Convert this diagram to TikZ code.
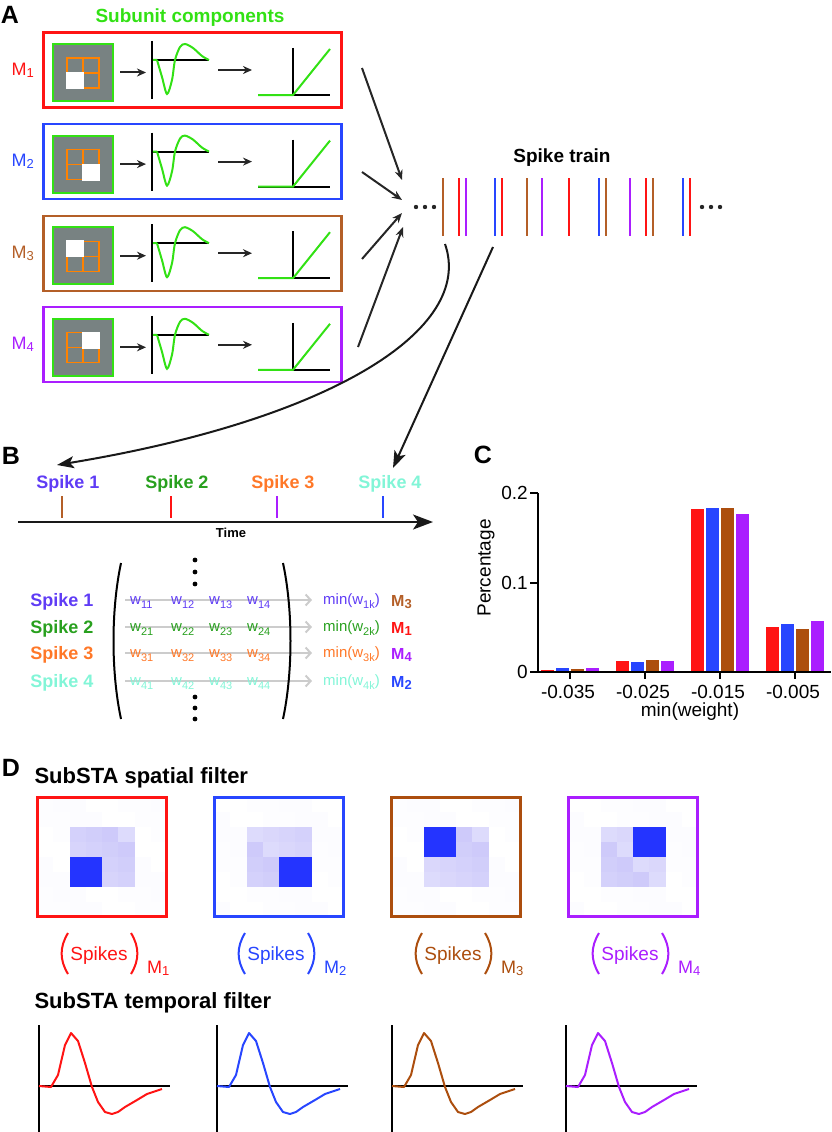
\documentclass[tikz,border=0pt]{standalone}
\usepackage{fontspec}
\setmainfont{Liberation Sans}
\usetikzlibrary{arrows.meta,positioning}
\definecolor{mred}{RGB}{255,20,20}
\definecolor{mblue}{RGB}{40,70,255}
\definecolor{mbrown}{RGB}{180,95,40}
\definecolor{mpurple}{RGB}{170,30,255}
\definecolor{dbrown}{RGB}{172,78,14}
\definecolor{subgreen}{RGB}{50,225,20}
\definecolor{stimgray}{RGB}{120,130,130}
\definecolor{gridorange}{RGB}{255,130,0}
\definecolor{bviolet}{RGB}{95,60,245}
\definecolor{bgreen}{RGB}{40,160,30}
\definecolor{borange}{RGB}{255,120,40}
\definecolor{baqua}{RGB}{130,245,215}
\definecolor{sflav}{RGB}{100,90,240}
\definecolor{sfhot}{RGB}{36,52,255}
\newcommand{\setfs}[1]{\fontsize{#1}{#1}\selectfont}
\newcommand{\wsub}[1]{\raisebox{-4pt}{\setfs{11}#1}}
\newcommand{\msub}[1]{\raisebox{-2pt}{\setfs{13}#1}}
\tikzset{
  panel/.style={font=\setfs{25}\bfseries},
  title/.style={font=\setfs{19}\bfseries},
  bigtitle/.style={font=\setfs{22}\bfseries, anchor=west},
  subbox/.style={rectangle, minimum width=298pt, minimum height=75pt, line width=2.2pt, inner sep=0pt},
  stim/.style={rectangle, fill=stimgray, draw=subgreen, line width=2.2pt, minimum width=60pt, minimum height=57pt, inner sep=0pt},
  gridline/.style={draw=gridorange, line width=1.3pt},
  axisline/.style={draw=black, line width=2pt},
  greencurve/.style={draw=subgreen, line width=2pt},
  smallarrow/.style={-{Stealth[length=9pt,width=8pt]}, line width=2pt, black!85},
  convarrow/.style={-{Stealth[length=10pt,width=8pt]}, line width=2pt, black!85},
  bigarrow/.style={-{Stealth[length=17pt,width=12pt,inset=4pt]}, line width=2pt, black!90},
  spike/.style={line width=2.2pt},
  mlabel/.style={font=\setfs{18}},
  spikelab/.style={font=\setfs{18}\bfseries},
  went/.style={font=\setfs{15}, inner sep=0pt},
  mbold/.style={font=\setfs{16}\bfseries, inner sep=0pt},
  rowarrow/.style={-{Straight Barb[length=5pt,width=11pt]}, line width=2pt, draw=black!20},
  paren/.style={line width=2pt},
  ticklab/.style={font=\setfs{19}},
  sfbox/.style={rectangle, minimum width=129pt, minimum height=119pt, line width=2.2pt, inner sep=0pt},
  tcurve/.style={line width=2pt, line join=round}
}

\begin{document}
\begin{tikzpicture}[x=1pt, y=-1pt]
\useasboundingbox (0,0) rectangle (831,1132);

% panel letters
\node[panel] (labA) at (10,15) {A};
\node[panel] (labB) at (11,456) {B};
\node[panel] (labC) at (483,455) {C};
\node[panel] (labD) at (11,768) {D};

% ---------- A: subunits ----------
\node[title, text=subgreen] (subtitle) at (190,18) {Subunit components};
\foreach \i/\col/\wx/\wy in {1/mred/0/1, 2/mblue/1/1, 3/mbrown/0/0, 4/mpurple/1/0}{
  \pgfmathsetmacro\dy{91.6*(\i-1)}
  \pgfmathsetmacro\wxa{67+16*\wx-1}
  \pgfmathsetmacro\wya{58+15*\wy-1}
  \begin{scope}[yshift=-\dy pt]
    \node[subbox, draw=\col] (box\i) at (192.5,70) {};
    \node[mlabel, text=\col, left=5pt of box\i] (m\i) {M\msub{\i}};
    \node[stim] (stim\i) at (83,72.5) {};
    \draw[gridline] (67,58) rectangle (99,88) (83,58) -- (83,88) (67,73) -- (99,73);
    \fill[white] (\wxa,\wya) rectangle ++(18,17);
    \coordinate (tf\i) at (152,60);
    \draw[smallarrow] ([xshift=6pt]stim\i.east) -- ([xshift=-6pt]tf\i |- stim\i.east);
    \draw[axisline] (152,41) -- (152,99) (tf\i) -- (209,60);
    \draw[greencurve] (153,60) -- (157,60) plot[smooth] coordinates {(157,60) (162,77) (167,94) (172,80) (175,60) (180,47) (185,44) (193,48) (202,56) (209,60)};
    \coordinate (nl\i) at (293,95);
    \draw[smallarrow] (218,70) -- (252,70);
    \draw[axisline] (nl\i |- 0,48) -- (nl\i |- 0,96) (258,95) -- (330,95);
    \draw[greencurve] (258,95) -- (nl\i) -- (330,49);
  \end{scope}
}

% converging onto the spike train
\coordinate (out1) at (362,68);  \coordinate (in1) at (402,180);
\coordinate (out2) at (362,172); \coordinate (in2) at (402,200);
\coordinate (out3) at (362,259); \coordinate (in3) at (402,213);
\coordinate (out4) at (358,347); \coordinate (in4) at (403,227);
\foreach \i in {1,...,4}
  \draw[convarrow] (out\i) -- (in\i);

\node[title] (train) at (562,158) {Spike train};
\foreach \x/\c in {443/mbrown, 459/mred, 466/mpurple, 495/mblue, 502/mred, 527/mbrown, 542/mpurple, 569/mred, 599/mblue, 606/mbrown, 630/mpurple, 646/mred, 653/mbrown, 683/mblue, 690/mred}
  \draw[spike, \c] (\x,178) -- (\x,236);
\foreach \x in {416,425,434,702,711,720}
  \fill[black!85] (\x,207) circle[radius=2.2pt];

% ---------- B ----------
\foreach \i/\x/\c in {1/68/bviolet, 2/177/bgreen, 3/283/borange, 4/390/baqua}
  \node[spikelab, text=\c] (t\i) at (\x,484) {Spike \i};
\foreach \x/\c in {62/mbrown, 171/mred, 277/mpurple, 383/mblue}
  \draw[\c, line width=2.6pt] (\x,496) -- (\x,518);
\draw[-{Stealth[length=20pt,width=15pt,inset=5pt]}, line width=2pt, black!90] (18,522) -- (433,522);
\node[font=\setfs{13}\bfseries] (time) at (231,533) {Time};

\coordinate (tail1) at (445,244); \coordinate (tip1) at (57,465);
\coordinate (tail2) at (493,247); \coordinate (tip2) at (393,468);
\draw[bigarrow] (tail1) .. controls (475,330) and (330,420) .. (tip1);
\draw[bigarrow] (tail2) -- (tip2);

% weight matrix
\foreach \r/\c/\yb/\m/\mc in {1/bviolet/604/3/mbrown, 2/bgreen/631/1/mred, 3/borange/657/4/mpurple, 4/baqua/685/2/mblue}{
  \draw[rowarrow] (125,{\yb-4}) -- (312,{\yb-4});
  \node[spikelab, text=\c, anchor=base] (r\r) at (62,{\yb+2}) {Spike \r};
  \foreach \k/\xk in {1/130, 2/171, 3/209, 4/247}
    \node[went, text=\c, anchor=base west] (w\r\k) at (\xk,\yb) {w\wsub{\r\k}};
  \node[went, text=\c, anchor=base west] (min\r) at (323,\yb) {min(w\wsub{\r k})};
  \node[mbold, text=\mc, anchor=base west] (mm\r) at (391,{\yb+2}) {M\msub{\textbf{\m}}};
}
\draw[paren] (121,563) .. controls (111,610) and (111,672) .. (121,719);
\draw[paren] (283,563) .. controls (293,610) and (293,672) .. (283,719);
\foreach \y in {560,572,584,697,708,719}
  \fill (195,\y) circle[radius=2.4pt];

% ---------- C: histogram ----------
\foreach \g/\ha/\hb/\hc/\hd in {0/0.0022/0.004/0.003/0.004, 1/0.0126/0.011/0.0138/0.0126, 2/0.1825/0.183/0.183/0.1765, 3/0.0506/0.0533/0.048/0.057}{
  \pgfmathsetmacro\xg{541+75*\g}
  \foreach \k/\h/\c in {0/\ha/mred, 1/\hb/mblue, 2/\hc/dbrown, 3/\hd/mpurple}
    \fill[\c] ({\xg+15*\k},672) rectangle ({\xg+15*\k+13.3},{672-895*\h});
}
\draw[axisline, line width=2.2pt] (538,493) -- (538,672) -- (831,672);
\foreach \y/\t in {493/0.2, 582.5/0.1, 672/0}{
  \draw[line width=2pt] (530,\y) -- (538,\y);
  \node[ticklab, anchor=east, inner sep=1pt] at (529,\y) {\t};
}
\foreach \g/\t in {0/-0.035, 1/-0.025, 2/-0.015, 3/-0.005}{
  \draw[line width=2pt] ({570+75*\g},672) -- ({570+75*\g},679);
  \node[ticklab] (xt\g) at ({568+75*\g},692) {\t};
}
\node[ticklab, rotate=90] (ylab) at (486,568) {Percentage};
\node[ticklab] (xlab) at (690,712) {min(weight)};

% ---------- D: spatial filters ----------
\node[bigtitle] (sptitle) at (31,778) {SubSTA spatial filter};
\foreach \i/\col/\bx/\by in {1/mred/2/4, 2/mblue/4/4, 3/dbrown/2/2, 4/mpurple/4/2}{
  \pgfmathsetmacro\xo{37+177*(\i-1)}
  \foreach \c in {0,...,7}{
    \foreach \r in {0,...,7}{
      \pgfmathtruncatemacro\t{mod(\c*7+\r*11+\i*3,6)}
      \pgfmathtruncatemacro\inner{(\c>1)&&(\c<6)&&(\r>1)&&(\r<6)}
      \pgfmathtruncatemacro\hot{(\c>=\bx)&&(\c<=\bx+1)&&(\r>=\by)&&(\r<=\by+1)}
      \ifnum\hot=1
        \def\cc{sfhot}
      \else\ifnum\inner=1
        \pgfmathtruncatemacro\p{22+2*\t}\edef\cc{sflav!\p!white}
      \else
        \pgfmathtruncatemacro\p{\t/2}\edef\cc{sflav!\p!white}
      \fi\fi
      \fill[\cc] ({\xo+16.25*\c},{797+15*\r}) rectangle ++(16.6,15.3);
    }
  }
  \node[sfbox, draw=\col] (sf\i) at ({\xo+65},857) {};
  \pgfmathsetmacro\xc{\xo+62}
  \node[ticklab, text=\col, anchor=base, inner sep=0pt] (sp\i) at (\xc,960) {Spikes};
  \draw[paren, \col] ({\xc-31},933) .. controls ({\xc-39.5},947) and ({\xc-39.5},960) .. ({\xc-31},974);
  \draw[paren, \col] ({\xc+32},933) .. controls ({\xc+40.5},947) and ({\xc+40.5},960) .. ({\xc+32},974);
  \node[mlabel, text=\col, anchor=base west, inner sep=0pt] (spm\i) at ({\xc+48},973) {M\msub{\i}};
}

% ---------- D: temporal filters ----------
\node[bigtitle] (tmptitle) at (31,1003) {SubSTA temporal filter};
\foreach \ax/\col in {39/mred, 217/mblue, 392/dbrown, 566/mpurple}{
  \draw[axisline] (\ax,1025) -- (\ax,1132) (\ax,1086) -- ({\ax+131},1086);
  \draw[tcurve, \col, xshift=\ax pt] plot coordinates {(0,1086) (12,1087) (19,1075) (26,1045) (32,1033) (39,1041) (46,1063) (53,1087) (59,1102) (66,1112) (73,1114) (79,1112) (86,1107) (98,1100) (108,1094) (123,1089)};
}
\end{tikzpicture}
\end{document}
